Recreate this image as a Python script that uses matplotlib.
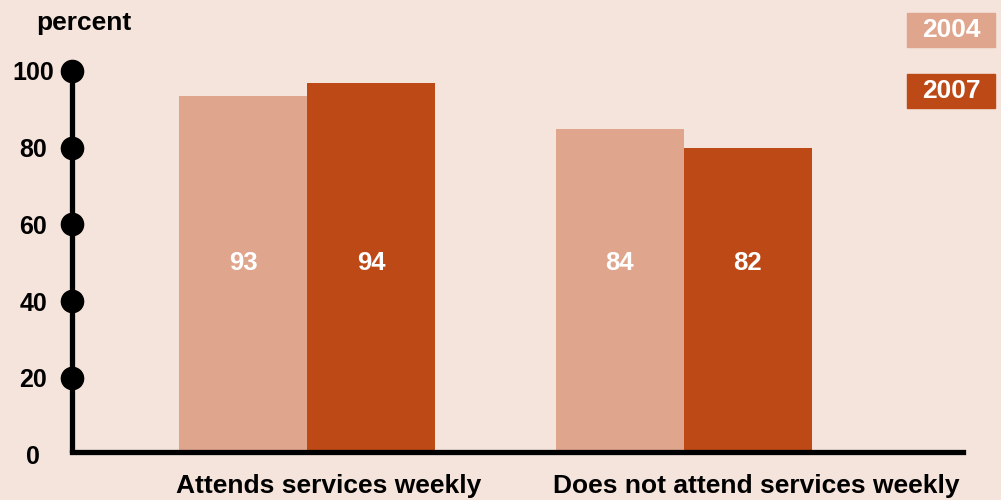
import matplotlib
matplotlib.use("Agg")
import matplotlib.pyplot as plt
from matplotlib.patches import Rectangle
from matplotlib.transforms import blended_transform_factory, offset_copy

categories = ["Attends services weekly", "Does not attend services weekly"]
series_names = ["2004", "2007"]
heights_2004 = [93.5, 85.0]
heights_2007 = [97.0, 80.0]
labels_2004 = ["93", "84"]
labels_2007 = ["94", "82"]
yticks = [0, 20, 40, 60, 80, 100]
ytick_labels = ["0", "20", "40", "60", "80", "100"]

bg = "#F5E4DC"
c_light = "#E0A68D"
c_dark = "#BD4917"
font = "Liberation Sans"

fig = plt.figure(figsize=(10.01, 5.00), dpi=100, facecolor=bg)
W, H = 1001, 500
ax = fig.add_axes([72 / W, (500 - 454.7) / H, (963 - 72) / W, (454.7 - 71) / H])
ax.set_facecolor(bg)
ax.set_ylim(0, 100)
ax.set_xlim(-0.624, 1.742)

w = 0.34
xs = list(range(len(categories)))
b1 = ax.bar([x - w / 2 for x in xs], heights_2004, width=w, color=c_light, zorder=2)
b2 = ax.bar([x + w / 2 for x in xs], heights_2007, width=w, color=c_dark, zorder=2)
for rects, labs in ((b1, labels_2004), (b2, labels_2007)):
    for r, lab in zip(rects, labs):
        ax.text(r.get_x() + r.get_width() / 2, 50.0, lab, ha="center", va="center",
                color="white", fontsize=18.5, fontweight="bold", family=font, zorder=3)

for s in ["top", "right"]:
    ax.spines[s].set_visible(False)
ax.spines["left"].set_linewidth(3.8)
ax.spines["bottom"].set_linewidth(3.8)
ax.spines["left"].set_zorder(4)
ax.spines["bottom"].set_zorder(4)
ax.spines["bottom"].set_position(("data", 0.7))
ax.spines["left"].set_bounds(1.2, 100)

ax.plot([ax.get_xlim()[0]] * (len(yticks) - 1), yticks[1:], "o", color="black",
        markersize=16, clip_on=False, zorder=5)

ax.set_yticks(yticks)
ax.set_yticklabels(ytick_labels)
ax.tick_params(axis="y", length=0, pad=28, labelsize=18)
for t in ax.get_yticklabels():
    t.set_fontweight("bold")
    t.set_family(font)
    t.set_horizontalalignment("center")
ax.set_xticks([])

trans = blended_transform_factory(ax.transData, fig.transFigure)
trans = offset_copy(trans, fig=fig, x=-3, y=0, units="dots")
for x, cat in zip(xs, categories):
    ax.text(x - w, (500 - 486) / H, cat, transform=trans, ha="left", va="center",
            fontsize=19, fontweight="bold", family=font)

fig.text(36 / W, (500 - 23) / H, "percent", ha="left", va="center",
         fontsize=19, fontweight="bold", family=font)

for name, col, y0 in ((series_names[0], c_light, 13), (series_names[1], c_dark, 74)):
    fig.patches.append(Rectangle((907 / W, (500 - y0 - 34) / H), 88 / W, 34 / H,
                                 transform=fig.transFigure, color=col))
    fig.text(951 / W, (500 - y0 - 17) / H, name, ha="center", va="center",
             color="white", fontsize=19, fontweight="bold", family=font)

fig.savefig("out.png", dpi=100, facecolor=bg)
